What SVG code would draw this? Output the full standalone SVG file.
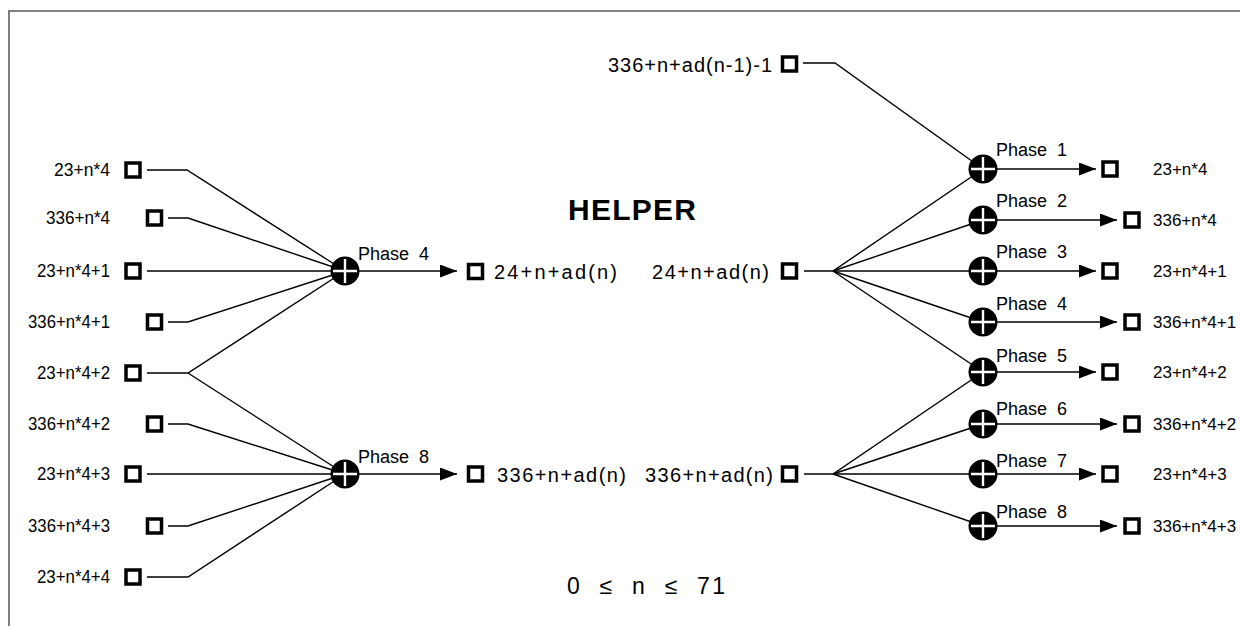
<svg xmlns="http://www.w3.org/2000/svg" width="1240" height="626" viewBox="0 0 1240 626">
<style>
.sq{fill:#fff;stroke:#000;stroke-width:3.5}
.xc{fill:#000}
.xp{stroke:#fff;stroke-width:2.4}
.cn{fill:none;stroke:#000;stroke-width:1.4}
.lb{font-family:"Liberation Sans",Arial,sans-serif;font-size:18.5px;fill:#000}
.rb{font-family:"Liberation Sans",Arial,sans-serif;font-size:17px;fill:#000}
.ph{font-family:"Liberation Sans",Arial,sans-serif;font-size:18px;fill:#000}
.md{font-family:"Liberation Sans",Arial,sans-serif;font-size:20px;fill:#000}
.tt{font-family:"Liberation Sans",Arial,sans-serif;font-size:30px;font-weight:bold;fill:#000}
</style>
<defs>
<marker id="ah" markerUnits="userSpaceOnUse" markerWidth="18" markerHeight="14" refX="17" refY="6.5" orient="auto">
<path d="M0,0 L17,6.5 L0,13 z" fill="#000"/>
</marker>
<g id="xor">
<circle class="xc" r="14.5"/>
<path class="xp" d="M-12,0 H12 M0,-12 V12"/>
</g>
</defs>
<rect width="1240" height="626" fill="#fff"/>
<path d="M9,626 V11 H1240" fill="none" stroke="#808080" stroke-width="2"/>

<g id="connectors">
<polyline class="cn" points="147,170 187,170 345,271"/>
<polyline class="cn" points="168,218 188,218 345,271"/>
<polyline class="cn" points="147,271 345,271"/>
<polyline class="cn" points="168,322 188,322 345,271"/>
<polyline class="cn" points="147,373 188,373 345,271"/>
<polyline class="cn" points="188,373 345,474"/>
<polyline class="cn" points="168,424 188,424 345,474"/>
<polyline class="cn" points="147,474 345,474"/>
<polyline class="cn" points="168,526 188,526 345,474"/>
<polyline class="cn" points="147,577 188,577 345,474"/>
<line class="cn" x1="359" y1="271" x2="457" y2="271" marker-end="url(#ah)"/>
<line class="cn" x1="359" y1="474" x2="457" y2="474" marker-end="url(#ah)"/>
<polyline class="cn" points="803,63 835,63 983,169"/>
<polyline class="cn" points="804,271 833,271 983,169"/>
<polyline class="cn" points="833,271 983,220"/>
<polyline class="cn" points="833,271 983,271"/>
<polyline class="cn" points="833,271 983,322"/>
<polyline class="cn" points="833,271 983,372"/>
<polyline class="cn" points="804,474 833,474 983,372"/>
<polyline class="cn" points="833,474 983,424"/>
<polyline class="cn" points="833,474 983,474"/>
<polyline class="cn" points="833,474 983,526"/>
<line class="cn" x1="997" y1="169" x2="1096" y2="169" marker-end="url(#ah)"/>
<line class="cn" x1="997" y1="220" x2="1117" y2="220" marker-end="url(#ah)"/>
<line class="cn" x1="997" y1="271" x2="1096" y2="271" marker-end="url(#ah)"/>
<line class="cn" x1="997" y1="322" x2="1117" y2="322" marker-end="url(#ah)"/>
<line class="cn" x1="997" y1="372" x2="1096" y2="372" marker-end="url(#ah)"/>
<line class="cn" x1="997" y1="424" x2="1117" y2="424" marker-end="url(#ah)"/>
<line class="cn" x1="997" y1="474" x2="1096" y2="474" marker-end="url(#ah)"/>
<line class="cn" x1="997" y1="526" x2="1117" y2="526" marker-end="url(#ah)"/>
</g>

<g id="in1"><rect class="sq" x="126" y="163" width="14" height="14"/><text class="lb" x="110" y="176" text-anchor="end" textLength="56" lengthAdjust="spacingAndGlyphs">23+n*4</text></g>
<g id="in2"><rect class="sq" x="147.5" y="211" width="14" height="14"/><text class="lb" x="110" y="224" text-anchor="end" textLength="64" lengthAdjust="spacingAndGlyphs">336+n*4</text></g>
<g id="in3"><rect class="sq" x="126" y="264" width="14" height="14"/><text class="lb" x="110" y="277" text-anchor="end" textLength="73" lengthAdjust="spacingAndGlyphs">23+n*4+1</text></g>
<g id="in4"><rect class="sq" x="147.5" y="315" width="14" height="14"/><text class="lb" x="110" y="328" text-anchor="end" textLength="82" lengthAdjust="spacingAndGlyphs">336+n*4+1</text></g>
<g id="in5"><rect class="sq" x="126" y="366" width="14" height="14"/><text class="lb" x="110" y="379" text-anchor="end" textLength="73" lengthAdjust="spacingAndGlyphs">23+n*4+2</text></g>
<g id="in6"><rect class="sq" x="147.5" y="417" width="14" height="14"/><text class="lb" x="110" y="430" text-anchor="end" textLength="82" lengthAdjust="spacingAndGlyphs">336+n*4+2</text></g>
<g id="in7"><rect class="sq" x="126" y="467" width="14" height="14"/><text class="lb" x="110" y="480" text-anchor="end" textLength="73" lengthAdjust="spacingAndGlyphs">23+n*4+3</text></g>
<g id="in8"><rect class="sq" x="147.5" y="519" width="14" height="14"/><text class="lb" x="110" y="532" text-anchor="end" textLength="82" lengthAdjust="spacingAndGlyphs">336+n*4+3</text></g>
<g id="in9"><rect class="sq" x="126" y="570" width="14" height="14"/><text class="lb" x="110" y="583" text-anchor="end" textLength="73" lengthAdjust="spacingAndGlyphs">23+n*4+4</text></g>

<g id="xorL4"><use href="#xor" x="345" y="271"/><text class="ph" x="358" y="260" xml:space="preserve">Phase  4</text></g>
<g id="xorL8"><use href="#xor" x="345" y="474"/><text class="ph" x="358" y="463" xml:space="preserve">Phase  8</text></g>

<g id="outL1"><rect class="sq" x="468.5" y="264.5" width="14" height="14"/><text class="md" x="494" y="278.5" textLength="123" lengthAdjust="spacing">24+n+ad(n)</text></g>
<g id="outL2"><rect class="sq" x="468.5" y="467" width="14" height="14"/><text class="md" x="497" y="481.5" textLength="129" lengthAdjust="spacing">336+n+ad(n)</text></g>

<g id="title"><text class="tt" x="568" y="220" textLength="128" lengthAdjust="spacing">HELPER</text></g>

<g id="inTop"><rect class="sq" x="782.5" y="57" width="14" height="14"/><text class="md" x="772" y="72" text-anchor="end" textLength="164" lengthAdjust="spacing">336+n+ad(n-1)-1</text></g>
<g id="inR1"><rect class="sq" x="782.5" y="264" width="14" height="14"/><text class="md" x="769" y="278.5" text-anchor="end" textLength="117" lengthAdjust="spacing">24+n+ad(n)</text></g>
<g id="inR2"><rect class="sq" x="782.5" y="467" width="14" height="14"/><text class="md" x="773" y="481.5" text-anchor="end" textLength="128" lengthAdjust="spacing">336+n+ad(n)</text></g>

<g id="xorR1"><use href="#xor" x="983" y="169"/><text class="ph" x="996" y="156" xml:space="preserve">Phase  1</text></g>
<g id="xorR2"><use href="#xor" x="983" y="220"/><text class="ph" x="996" y="207" xml:space="preserve">Phase  2</text></g>
<g id="xorR3"><use href="#xor" x="983" y="271"/><text class="ph" x="996" y="258" xml:space="preserve">Phase  3</text></g>
<g id="xorR4"><use href="#xor" x="983" y="322"/><text class="ph" x="996" y="310" xml:space="preserve">Phase  4</text></g>
<g id="xorR5"><use href="#xor" x="983" y="372"/><text class="ph" x="996" y="362" xml:space="preserve">Phase  5</text></g>
<g id="xorR6"><use href="#xor" x="983" y="424"/><text class="ph" x="996" y="415" xml:space="preserve">Phase  6</text></g>
<g id="xorR7"><use href="#xor" x="983" y="474"/><text class="ph" x="996" y="467" xml:space="preserve">Phase  7</text></g>
<g id="xorR8"><use href="#xor" x="983" y="526"/><text class="ph" x="996" y="518" xml:space="preserve">Phase  8</text></g>

<g id="outR1"><rect class="sq" x="1103" y="162" width="14" height="14"/><text class="rb" x="1153" y="175">23+n*4</text></g>
<g id="outR2"><rect class="sq" x="1125" y="213" width="14" height="14"/><text class="rb" x="1153" y="226">336+n*4</text></g>
<g id="outR3"><rect class="sq" x="1103" y="264" width="14" height="14"/><text class="rb" x="1153" y="277">23+n*4+1</text></g>
<g id="outR4"><rect class="sq" x="1125" y="315" width="14" height="14"/><text class="rb" x="1153" y="328">336+n*4+1</text></g>
<g id="outR5"><rect class="sq" x="1103" y="365" width="14" height="14"/><text class="rb" x="1153" y="378">23+n*4+2</text></g>
<g id="outR6"><rect class="sq" x="1125" y="417" width="14" height="14"/><text class="rb" x="1153" y="430">336+n*4+2</text></g>
<g id="outR7"><rect class="sq" x="1103" y="467" width="14" height="14"/><text class="rb" x="1153" y="480">23+n*4+3</text></g>
<g id="outR8"><rect class="sq" x="1125" y="519" width="14" height="14"/><text class="rb" x="1153" y="532">336+n*4+3</text></g>

<g id="range"><text class="md" style="font-size:23px" x="567" y="594" xml:space="preserve" textLength="158" lengthAdjust="spacing">0  ≤  n  ≤  71</text></g>
</svg>
